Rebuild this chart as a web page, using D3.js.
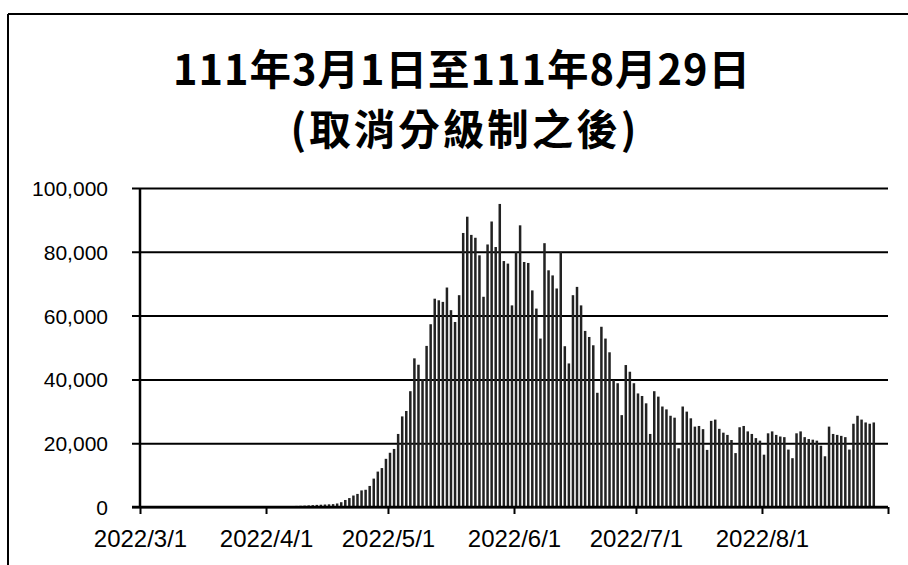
<!DOCTYPE html>
<html>
<head>
<meta charset="utf-8">
<script src="https://cdn.jsdelivr.net/npm/d3@7"></script>
<style>
  html, body { margin: 0; padding: 0; background: #fff; }
  svg { display: block; }
</style>
</head>
<body>
<svg id="chart" width="908" height="565"></svg>
<script>
// ---- data ----
const titleLines = ["111年3月1日至111年8月29日", "(取消分級制之後)"];
const startDate = "2022-03-01";
// daily cases, one value per day from 2022/3/1
const marchValues = [27, 33, 40, 45, 52, 39, 60, 53, 62, 71, 58, 49, 44, 63, 80, 85, 78, 94, 92, 105, 110, 96, 102, 115, 120, 128, 119, 136, 125, 141, 150];
const aprilValues = [160, 175, 190, 210, 240, 270, 300, 340, 380, 430, 500, 580, 660, 720, 780, 840,
  900, 1100, 1500, 2200, 2800, 3600, 4100, 5200, 5400, 6600, 8900, 11100, 12200, 15100];
const mayValues = [17000, 18200, 22900, 28400, 30100, 36300, 46600, 44600, 40100, 50500,
  57300, 65300, 64800, 64300, 68800, 61700, 58000, 66400, 85900, 91000,
  85300, 84400, 78900, 65900, 82300, 89500, 81500, 95000, 77100, 76300, 63200];
const juneValues = [79900, 88300, 76800, 76500, 67900, 62200, 52800, 82700, 74200, 72600,
  68500, 79900, 50400, 45000, 66400, 69000, 63200, 55200, 53300, 50700,
  35800, 56500, 52800, 48500, 39800, 38800, 28800, 44500, 42400, 38800];
const julyValues = [35600, 34800, 32500, 22900, 36300, 34600, 31500, 30600, 28600, 28000,
  18400, 31500, 29900, 27800, 25200, 25400, 24400, 17900, 27000, 27400,
  24500, 23300, 22600, 21000, 16900, 25000, 25400, 23700, 22900, 21600, 20800];
const augustValues = [16400, 23100, 23700, 22600, 22100, 21900, 18000, 15300, 23100, 23700,
  21900, 21300, 21100, 20800, 19200, 15900, 25200, 22900, 22600, 22300,
  21900, 18000, 26100, 28600, 27400, 26500, 26100, 26500];
const yTicks = [0, 20000, 40000, 60000, 80000, 100000];
const xTickLabels = ["2022/3/1", "2022/4/1", "2022/5/1", "2022/6/1", "2022/7/1", "2022/8/1"];

const values = [].concat(marchValues, aprilValues, mayValues, juneValues, julyValues, augustValues);
const parse = d3.utcParse("%Y-%m-%d");
const t0 = parse(startDate);
const data = values.map((v, i) => ({ date: d3.utcDay.offset(t0, i), value: v }));

// ---- layout ----
const svg = d3.select("#chart");
const plot = { left: 140, right: 888, top: 188, bottom: 507 };

const x = d3.scaleUtc()
  .domain([t0, parse("2022-09-01")])
  .range([plot.left, plot.right]);
const y = d3.scaleLinear()
  .domain([0, 100000])
  .range([plot.bottom, plot.top]);

// frame
svg.append("line").attr("x1", 8).attr("x2", 908).attr("y1", 14).attr("y2", 14)
  .attr("stroke", "#000").attr("stroke-width", 2);
svg.append("line").attr("x1", 8).attr("x2", 8).attr("y1", 14).attr("y2", 565)
  .attr("stroke", "#000").attr("stroke-width", 2);

// title
const title = svg.append("g").attr("font-family", "'Noto Sans CJK TC', 'Noto Sans CJK SC', sans-serif")
  .attr("font-weight", "bold").attr("text-anchor", "middle").attr("fill", "#000");
title.append("text").attr("x", 462).attr("y", 85).attr("font-size", 41.5)
  .attr("letter-spacing", 1).text(titleLines[0]);
title.append("text").attr("x", 465).attr("y", 145).attr("font-size", 41.5)
  .attr("letter-spacing", 3).text(titleLines[1]);

// gridlines + y axis
const yAxis = d3.axisLeft(y).tickValues(yTicks)
  .tickSize(-(plot.right - plot.left)).tickSizeOuter(0)
  .tickFormat(d3.format(","));
const gy = svg.append("g").attr("transform", `translate(${plot.left},0)`).call(yAxis);
gy.select(".domain").remove();
gy.selectAll(".tick line").attr("stroke", "#000").attr("stroke-width", 2)
  .attr("x1", -8);
gy.selectAll(".tick text").attr("x", -32).attr("dy", "0.36em")
  .attr("font-family", "'Liberation Sans', Arial, sans-serif").attr("font-size", 21).attr("fill", "#000");

// bars
const dayW = x(d3.utcDay.offset(t0, 1)) - x(t0);
svg.append("g").selectAll("rect").data(data).join("rect")
  .attr("x", d => x(d.date) + dayW / 2 - 1.25)
  .attr("width", 2.5)
  .attr("y", d => y(d.value))
  .attr("height", d => y(0) - y(d.value))
  .attr("fill", "#222");

// y axis line
svg.append("line").attr("x1", plot.left).attr("x2", plot.left)
  .attr("y1", plot.top).attr("y2", plot.bottom)
  .attr("stroke", "#000").attr("stroke-width", 2.5);

// x axis
const monthTicks = d3.utcMonth.range(t0, parse("2022-09-02"));
const xAxis = d3.axisBottom(x).tickValues(monthTicks).tickSize(7).tickSizeOuter(0)
  .tickFormat((d, i) => xTickLabels[i] || "");
const gx = svg.append("g").attr("transform", `translate(0,${plot.bottom})`).call(xAxis);
gx.select(".domain").attr("stroke", "#000").attr("stroke-width", 2.5)
  .attr("d", `M${plot.left - 8},0H${plot.right}`);
gx.selectAll(".tick line").attr("stroke", "#000").attr("stroke-width", 2);
gx.selectAll(".tick text").attr("y", 23).attr("dy", "0.71em")
  .attr("font-family", "'Liberation Sans', Arial, sans-serif").attr("font-size", 24).attr("fill", "#000");
</script>
</body>
</html>
